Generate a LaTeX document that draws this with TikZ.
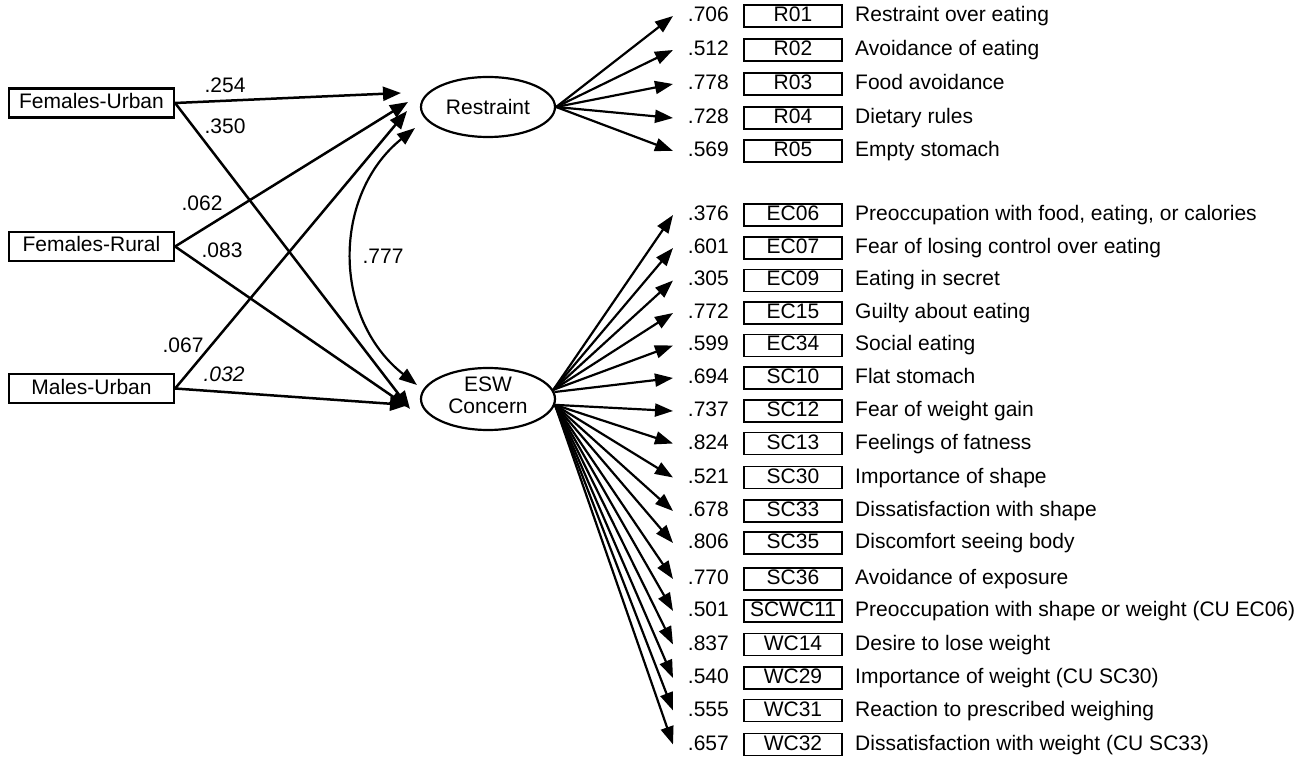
\documentclass[tikz,border=0pt]{standalone}
\usepackage{fontspec}
\setmainfont{Liberation Sans}
\usetikzlibrary{arrows.meta,shapes.geometric}
\begin{document}
\begin{tikzpicture}[x=1pt,y=-1pt,
  font=\fontsize{21}{22}\selectfont,
  lbox/.style={draw, line width=2.2pt, minimum width=165pt, minimum height=29pt, inner sep=0pt, text height=15pt, text depth=4pt},
  obs/.style={draw, line width=1.4pt, minimum width=98pt, minimum height=22pt, inner sep=0pt, text height=15pt, text depth=4pt},
  lat/.style={draw, ellipse, line width=2.2pt, minimum width=134pt, minimum height=60pt, inner sep=0pt, align=center},
  pth/.style={line width=2.5pt, -{Triangle[length=18pt,width=14pt]}},
  load/.style={line width=2.2pt, -{Triangle[length=18pt,width=13pt]}},
  val/.style={anchor=east, inner sep=0pt, text height=15pt, text depth=4pt},
  desc/.style={anchor=west, inner sep=0pt, text height=15pt, text depth=4pt},
  coef/.style={inner sep=0pt, text height=15pt, text depth=4pt}]
\useasboundingbox (0,0) rectangle (1307,759);

% exogenous boxes
\node[lbox] (fu) at (91.5,103) {Females-Urban};
\node[lbox] (fr) at (91.5,246.5) {Females-Rural};
\node[lbox] (mu) at (91.5,388.5) {Males-Urban};

% latent variables
\node[lat] (res) at (488,107) {Restraint};
\node[lat, minimum height=62pt] (esw) at (488,399) {};
\node[inner sep=0pt, align=center] (eswt) at (488,395) {ESW\\Concern};

% arrow end points
\coordinate (r1) at (401,93);
\coordinate (r2) at (408,102);
\coordinate (r3) at (407,111);
\coordinate (e1) at (410,409);
\coordinate (e2) at (408,407);
\coordinate (e3) at (408,405);
\coordinate (ct) at (415,128);
\coordinate (cb) at (417,385);

\draw[pth] (fu.east) -- (r1);
\draw[pth] (fu.east) -- (e1);
\draw[pth] (fr.east) -- (r2);
\draw[pth] (fr.east) -- (e2);
\draw[pth] (mu.east) -- (r3);
\draw[pth] (mu.east) -- (e3);

\draw[line width=2.2pt, {Triangle[length=18pt,width=13pt]}-{Triangle[length=18pt,width=13pt]}]
  (ct) .. controls (332,195) and (332,318) .. (cb);

% coefficients
\node[coef] (c254) at (225,87) {.254};
\node[coef] (c350) at (225,128) {.350};
\node[coef] (c062) at (202,205) {.062};
\node[coef] (c083) at (222,252) {.083};
\node[coef] (c067) at (183,347) {.067};
\node[coef] (c032) at (224,376) {\itshape .032};
\node[coef] (c777) at (383,258) {.777};

% Restraint indicators
\foreach \id/\yy/\vv/\dd in {
  R01/16/.706/Restraint over eating,
  R02/50/.512/Avoidance of eating,
  R03/84/.778/Food avoidance,
  R04/118/.728/Dietary rules,
  R05/151/.569/Empty stomach}{
  \node[obs] (\id) at (793,\yy) {\id};
  \node[val] (v\id) at (729,\yy) {\vv};
  \node[desc] (d\id) at (855,\yy) {\dd};
  \coordinate (t\id) at (673,\yy);
  \draw[load] (res.east) -- (t\id);
}

% ESW indicators
\foreach \id/\yy/\vv/\aa/\dd in {
  EC06/215/.376/8/{Preoccupation with food, eating, or calories},
  EC07/248/.601/8/Fear of losing control over eating,
  EC09/280.5/.305/8/Eating in secret,
  EC15/313/.772/8/Guilty about eating,
  EC34/345.5/.599/8/Social eating,
  SC10/378/.694/6/Flat stomach,
  SC12/411/.737/-5/Fear of weight gain,
  SC13/443.5/.824/-5/Feelings of fatness,
  SC30/477.5/.521/-5/Importance of shape,
  SC33/511/.678/-5/Dissatisfaction with shape,
  SC35/543/.806/-5/Discomfort seeing body,
  SC36/579/.770/-5/Avoidance of exposure,
  SCWC11/611/.501/-5/Preoccupation with shape or weight (CU EC06),
  WC14/644.5/.837/-5/Desire to lose weight,
  WC29/678/.540/-5/Importance of weight (CU SC30),
  WC31/710.5/.555/-5/Reaction to prescribed weighing,
  WC32/744.5/.657/-5/Dissatisfaction with weight (CU SC33)}{
  \node[obs] (\id) at (793,\yy) {\id};
  \node[val] (v\id) at (729,\yy) {\vv};
  \node[desc] (d\id) at (855,\yy) {\dd};
  \coordinate (t\id) at (673,\yy);
  \draw[load] (esw.\aa) -- (t\id);
}
\end{tikzpicture}
\end{document}
